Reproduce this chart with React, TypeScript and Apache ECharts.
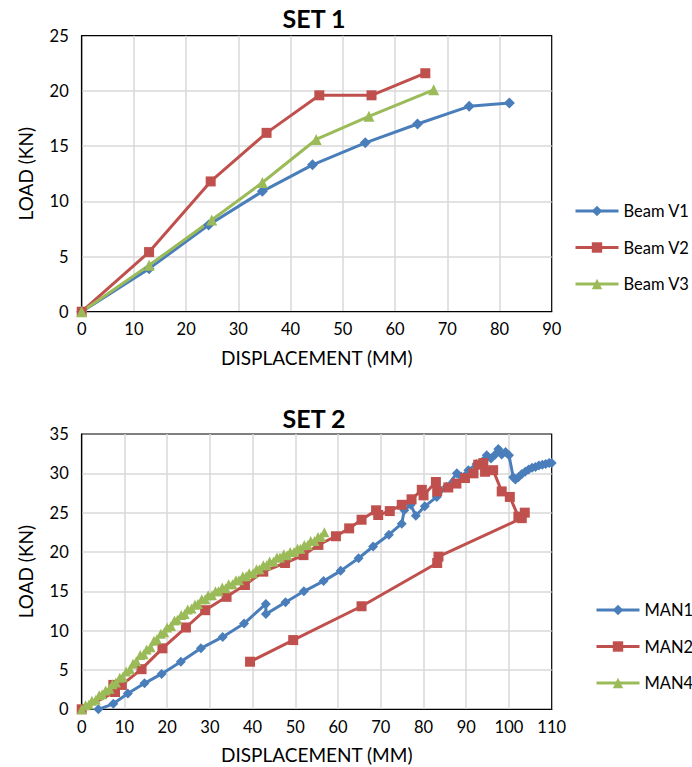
import React, { useEffect, useRef } from "react";
import * as echarts from "echarts";

// ---- SET 1 data: [displacement (mm), load (kN)]
const beamV1: number[][] = [
  [0, 0], [12.9, 3.9], [24.3, 7.85], [34.6, 10.9], [44.2, 13.3],
  [54.3, 15.3], [64.3, 17.0], [74.2, 18.6], [81.9, 18.9],
];
const beamV2: number[][] = [
  [0, 0], [12.9, 5.4], [24.7, 11.8], [35.4, 16.2], [45.5, 19.6],
  [55.5, 19.6], [65.8, 21.6],
];
const beamV3: number[][] = [
  [0, 0], [12.9, 4.2], [24.9, 8.3], [34.6, 11.7], [44.9, 15.6],
  [55.0, 17.7], [67.4, 20.1],
];

// ---- SET 2 data
const man1: number[][] = [
  [3.9, 0], [7.4, 0.7], [10.8, 2.0], [14.7, 3.3], [18.7, 4.5],
  [23.2, 6.05], [27.9, 7.75], [33.0, 9.2], [38.0, 10.9], [43.1, 13.4],
  [43.1, 12.1], [47.7, 13.6], [52.0, 15.0], [56.6, 16.3], [60.6, 17.6],
  [64.8, 19.2], [68.2, 20.7], [71.9, 22.2], [74.9, 23.6], [75.5, 25.3],
  [77.0, 26.0], [78.2, 24.6], [80.3, 25.8], [83.1, 27.0], [85.4, 28.3],
  [87.8, 30.0], [88.8, 29.6], [90.5, 30.4], [92.4, 31.2], [94.0, 31.6],
  [94.8, 32.3], [95.8, 31.9], [96.8, 32.4], [97.5, 33.1], [98.3, 32.4],
  [99.2, 32.7], [100.0, 32.3], [101.0, 29.5], [101.5, 29.2], [102.2, 29.5],
  [103.0, 29.9], [103.8, 30.2], [104.6, 30.5], [105.4, 30.7], [106.2, 30.8],
  [107.0, 31.0], [107.8, 31.1], [108.6, 31.2], [109.4, 31.3], [110.0, 31.3],
];
const man2: number[][] = [
  [0, 0], [7.8, 2.2], [7.4, 3.1], [9.4, 3.1], [14.0, 5.1],
  [18.9, 7.75], [24.4, 10.4], [28.9, 12.6], [33.9, 14.3], [38.2, 15.8],
  [42.5, 17.5], [47.6, 18.6], [51.9, 19.6], [55.4, 20.9], [59.5, 22.0],
  [62.6, 23.0], [65.5, 24.1], [68.9, 25.3], [69.4, 24.7], [72.1, 25.2],
  [74.9, 26.0], [77.2, 26.7], [79.6, 27.9], [80.0, 27.2], [82.9, 28.9],
  [83.2, 27.7], [85.8, 28.2], [87.7, 28.7], [89.7, 29.4], [91.7, 30.0],
  [92.8, 31.1], [94.0, 31.3], [94.4, 30.2], [96.3, 30.4], [98.3, 27.7],
  [100.2, 27.0], [102.2, 24.5], [103.7, 25.0], [103.0, 24.3], [83.5, 19.4],
  [83.2, 18.6], [65.5, 13.1], [49.5, 8.8], [39.4, 6.05],
];
const man4: number[][] = [
  [0, 0], [0.9, 0.5], [1.7, 0.6], [2.4, 1.1], [3.3, 1.2], [4.1, 1.8], [4.8, 1.9], [5.6, 2.4], [6.5, 2.6], [7.2, 3.2],
  [8.0, 3.4], [8.9, 4.0], [9.6, 4.1], [10.4, 4.8], [11.3, 5.1], [12.0, 5.8], [12.8, 6.1], [13.7, 6.9], [14.5, 7.0], [15.2, 7.6],
  [16.1, 7.9], [16.9, 8.7], [17.6, 8.9], [18.5, 9.6], [19.3, 9.8], [20.0, 10.4], [20.9, 10.6], [21.7, 11.3], [22.4, 11.4], [23.3, 12.0],
  [24.1, 12.1], [24.8, 12.7], [25.7, 12.8], [26.5, 13.3], [27.2, 13.4], [28.1, 14.0], [28.9, 14.0], [29.6, 14.5], [30.5, 14.5], [31.3, 15.0],
  [32.0, 15.0], [32.9, 15.5], [33.7, 15.4], [34.4, 15.9], [35.3, 15.9], [36.1, 16.4], [36.8, 16.4], [37.7, 16.9], [38.5, 16.9], [39.2, 17.3],
  [40.1, 17.3], [40.9, 17.8], [41.6, 17.8], [42.5, 18.3], [43.3, 18.3], [44.0, 18.8], [44.9, 18.8], [45.7, 19.3], [46.4, 19.3], [47.3, 19.7],
  [48.1, 19.6], [48.8, 20.0], [49.7, 20.0], [50.5, 20.4], [51.2, 20.4], [52.1, 20.9], [52.9, 20.9], [53.6, 21.4], [54.5, 21.4], [55.3, 21.9],
  [56.0, 21.9], [56.8, 22.5],
];

const set1Names = ["Beam V1", "Beam V2", "Beam V3"];
const set2Names = ["MAN1", "MAN2", "MAN4"];
const titles = ["SET 1", "SET 2"];
const xAxisName = "DISPLACEMENT (MM)";
const yAxisName = "LOAD (KN)";

const BLUE = "#4a7ebb";
const RED = "#c0504d";
const GREEN = "#9bbb59";
const FONT = "Lato";

function makeX(gridIndex: number, max: number) {
  return {
    type: "value",
    gridIndex,
    min: 0,
    max,
    interval: 10,
    name: xAxisName,
    nameLocation: "middle",
    nameGap: 36,
    nameTextStyle: { fontSize: 19, color: "#000", fontFamily: FONT },
    axisLine: { show: true, onZero: false, lineStyle: { color: "#000", width: 1.2 } },
    axisTick: { show: false },
    axisLabel: { fontSize: 16.5, color: "#000", fontFamily: FONT, margin: 9 },
    splitLine: { show: true, showMinLine: false, showMaxLine: false, lineStyle: { color: "#d9d9d9", width: 1.5 } },
  };
}
function makeY(gridIndex: number, max: number) {
  return {
    type: "value",
    gridIndex,
    min: 0,
    max,
    interval: 5,
    name: yAxisName,
    nameLocation: "middle",
    nameGap: 47,
    nameTextStyle: { fontSize: 19, color: "#000", fontFamily: FONT },
    axisLine: { show: true, onZero: false, lineStyle: { color: "#000", width: 1.2 } },
    axisTick: { show: false },
    axisLabel: { fontSize: 16.5, color: "#000", fontFamily: FONT, margin: 13 },
    splitLine: { show: true, showMinLine: false, showMaxLine: false, lineStyle: { color: "#d9d9d9", width: 1.5 } },
  };
}
function makeSeries(name: string, data: number[][], idx: number, color: string, symbol: string, size: number) {
  return {
    type: "line",
    name,
    data,
    xAxisIndex: idx,
    yAxisIndex: idx,
    symbol,
    symbolSize: size,
    showSymbol: true,
    lineStyle: { color, width: 3 },
    itemStyle: { color, borderWidth: 0 },
    emphasis: { disabled: true },
    z: 3,
  };
}
function makeLegend(left: number, top: number, data: string[]) {
  return {
    orient: "vertical",
    left,
    top,
    padding: 0,
    itemWidth: 43,
    itemHeight: 13,
    itemGap: 19.5,
    lineStyle: { width: 3 },
    data,
    textStyle: { fontSize: 16.5, color: "#000", fontFamily: FONT },
  };
}

export default function App() {
  const ref = useRef<HTMLDivElement>(null);
  useEffect(() => {
    if (!ref.current) return;
    const chart = echarts.init(ref.current, null, { renderer: "svg" });
    chart.setOption({
      animation: false,
      textStyle: { fontFamily: FONT },
      grid: [
        { left: 81.7, top: 35.7, width: 470, height: 276, show: true, borderColor: "#000", borderWidth: 1.2, backgroundColor: "transparent" },
        { left: 81.7, top: 434, width: 470, height: 275.3, show: true, borderColor: "#000", borderWidth: 1.2, backgroundColor: "transparent" },
      ],
      xAxis: [makeX(0, 90), makeX(1, 110)],
      yAxis: [makeY(0, 25), makeY(1, 35)],
      legend: [makeLegend(574, 202.5, set1Names), makeLegend(595, 601.5, set2Names)],
      graphic: [
        { type: "text", x: 314, y: 18, style: { text: titles[0], align: "center", verticalAlign: "middle", font: `bold 25px ${FONT}`, fill: "#000" } },
        { type: "text", x: 314, y: 418, style: { text: titles[1], align: "center", verticalAlign: "middle", font: `bold 25px ${FONT}`, fill: "#000" } },
      ],
      series: [
        makeSeries(set1Names[0], beamV1, 0, BLUE, "diamond", 11),
        makeSeries(set1Names[1], beamV2, 0, RED, "rect", 10),
        makeSeries(set1Names[2], beamV3, 0, GREEN, "triangle", 11),
        makeSeries(set2Names[0], man1, 1, BLUE, "diamond", 10),
        makeSeries(set2Names[1], man2, 1, RED, "rect", 10),
        makeSeries(set2Names[2], man4, 1, GREEN, "triangle", 10),
      ],
    });
    return () => chart.dispose();
  }, []);
  return <div ref={ref} style={{ position: "absolute", left: 0, top: 0, width: 692, height: 767 }} />;
}
